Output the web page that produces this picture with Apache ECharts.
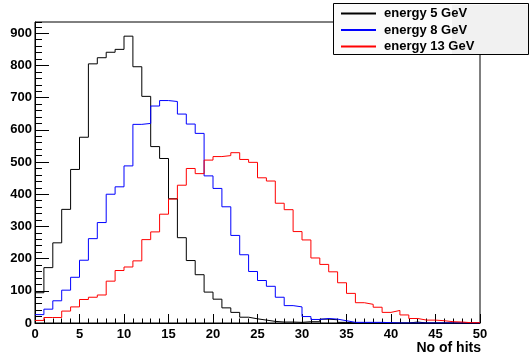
<!DOCTYPE html>
<html>
<head>
<meta charset="utf-8">
<script src="https://cdn.jsdelivr.net/npm/echarts@6/dist/echarts.min.js"></script>
<style>
  html, body { margin: 0; padding: 0; background: #fff; }
  #chart { width: 529px; height: 359px; }
</style>
</head>
<body>
<div id="chart"></div>
<script>
// number of hits, bins of width 1 from 0 to 50
const seriesNames = ['energy 5 GeV', 'energy 8 GeV', 'energy 13 GeV']
const e5 = [94, 172, 249, 353, 477, 577, 805, 824, 841, 850,
  891, 796, 704, 548, 511, 386, 265, 194, 150, 96,
  74, 47, 33, 18, 13, 9, 5, 3, 3, 2,
  4, 4, 12, 10, 2, 0, 0, 0, 0, 0,
  0, 0, 3, 0, 0, 0, 0, 0, 0, 0]
const e8 = [26, 43, 69, 102, 142, 195, 262, 312, 400, 423,
  488, 617, 620, 674, 691, 688, 649, 618, 589, 457,
  418, 361, 272, 212, 160, 132, 114, 80, 54, 50,
  20, 11, 14, 12, 7, 2, 2, 2, 2, 1,
  0, 0, 0, 0, 0, 0, 0, 0, 0, 0]
const e13 = [8, 17, 17, 37, 50, 73, 80, 87, 130, 163,
  174, 193, 259, 283, 338, 385, 428, 480, 464, 506,
  517, 520, 529, 508, 499, 451, 441, 372, 352, 284,
  258, 202, 182, 159, 125, 92, 63, 58, 49, 33,
  39, 25, 14, 9, 9, 7, 4, 3, 1, 1]
const colors = ['#000000', '#0000ff', '#ff0000']

const xMax = 50
const yMax = 935

const font = 'Liberation Sans, Arial, Helvetica, sans-serif'

// step outline: left edge of each bin plus the closing edge at xMax
const toSteps = (vals) => vals.map((v, i) => [i, v]).concat([[vals.length, vals[vals.length - 1]]])

const chart = echarts.init(document.getElementById('chart'))

const option = {
  animation: false,
  backgroundColor: '#ffffff',
  grid: {
    left: 35,
    right: 49,
    top: 22,
    bottom: 36,
    show: true,
    borderColor: '#000',
    borderWidth: 1,
    backgroundColor: 'transparent',
  },
  legend: {
    orient: 'vertical',
    left: 340,
    top: 7,
    padding: 0,
    itemWidth: 35,
    itemHeight: 12,
    itemGap: 3.5,
    z: 20,
    data: seriesNames,
    // line sample only, no marker in the middle
    itemStyle: { color: 'transparent', borderColor: 'transparent', borderWidth: 0, opacity: 0 },
    textStyle: {
      fontFamily: font,
      fontWeight: 'bold',
      fontSize: 13,
      color: '#000',
      padding: [0, 0, 0, 3],
    },
  },
  graphic: [
    {
      type: 'rect',
      z: 10,
      shape: { x: 333.5, y: 3.5, width: 195, height: 51 },
      style: { fill: '#fbfbfb', stroke: '#000', lineWidth: 1 },
    },
    {
      type: 'rect',
      z: 11,
      shape: { x: 452, y: 5, width: 76, height: 49 },
      style: { fill: '#f1f1f1', stroke: null },
    },
    {
      type: 'text',
      right: 48,
      top: 341,
      style: {
        text: 'No of hits',
        font: 'bold 14px ' + font,
        fill: '#000',
      },
    },
  ],
  xAxis: {
    type: 'value',
    min: 0,
    max: xMax,
    interval: 5,
    splitLine: { show: false },
    axisLine: { show: true, onZero: false, lineStyle: { color: '#000', width: 1 } },
    axisTick: { show: true, inside: true, length: 9, lineStyle: { color: '#000' } },
    minorTick: { show: true, splitNumber: 5, length: 4.5, lineStyle: { color: '#000' } },
    axisLabel: {
      margin: 5,
      fontFamily: font,
      fontWeight: 'bold',
      fontSize: 13,
      color: '#000',
    },
  },
  yAxis: [
    {
      type: 'value',
      min: 0,
      max: yMax,
      interval: 20,
      splitLine: { show: false },
      axisLine: { show: true, lineStyle: { color: '#000', width: 1 } },
      axisTick: { show: true, inside: true, length: 7, lineStyle: { color: '#000' } },
      axisLabel: { show: false },
    },
    {
      type: 'value',
      position: 'left',
      min: 0,
      max: yMax,
      interval: 100,
      splitLine: { show: false },
      axisLine: { show: false },
      axisTick: { show: true, inside: true, length: 14, lineStyle: { color: '#000' } },
      axisLabel: {
        margin: 3,
        fontFamily: font,
        fontWeight: 'bold',
        fontSize: 13,
        color: '#000',
        showMaxLabel: false,
        formatter(val) {
          return val % 100 === 0 ? String(val) : ''
        },
      },
    },
  ],
  series: [e5, e8, e13].map((vals, k) => ({
    name: seriesNames[k],
    type: 'line',
    step: 'end',
    symbol: 'none',
    data: toSteps(vals),
    color: colors[k],
    lineStyle: { color: colors[k], width: 1 },
  })),
}

chart.setOption(option)
</script>
</body>
</html>
